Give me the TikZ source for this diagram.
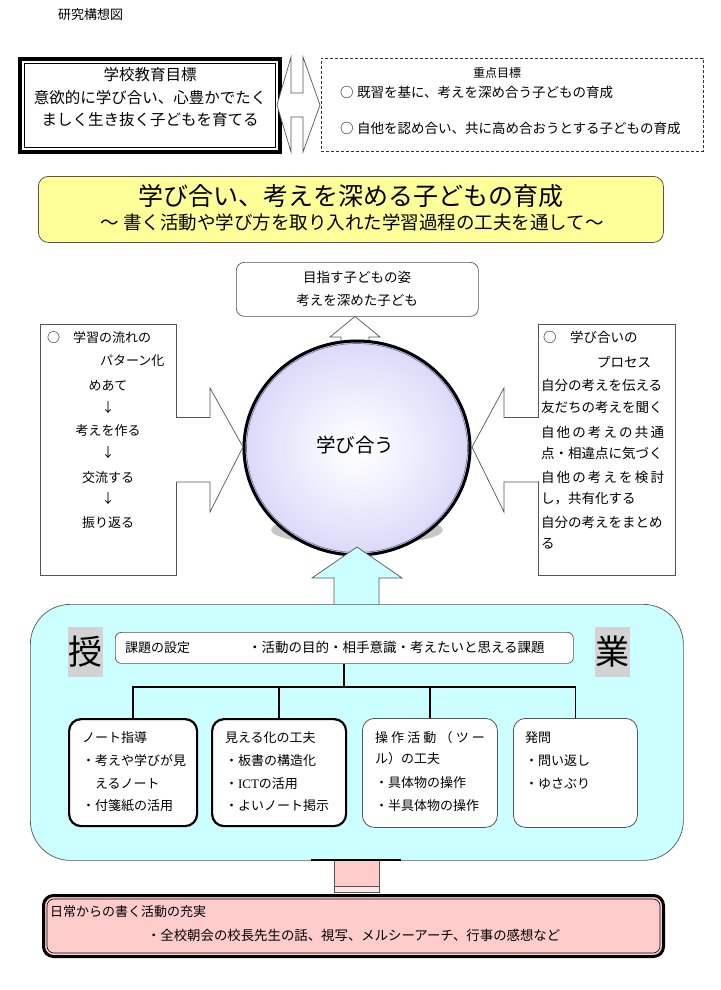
\documentclass[tikz,border=0pt]{standalone}
\usepackage{fontspec}
\setmainfont{Noto Sans CJK JP}
\newfontfamily\latinserif{Liberation Serif}
\usetikzlibrary{calc,shapes.geometric}
\definecolor{cyanbox}{HTML}{CCFFFF}
\definecolor{yelbox}{HTML}{FFFF99}
\definecolor{pinkbox}{HTML}{FFCCCC}
\definecolor{palepink}{HTML}{FFE6E6}
\definecolor{edgegray}{HTML}{555555}
\definecolor{labelgray}{HTML}{D3D3D3}
\definecolor{ringblue}{HTML}{7878A8}
\pgfdeclareradialshading{ballshade}{\pgfpoint{0bp}{0bp}}{rgb(0bp)=(1,1,1); rgb(6bp)=(0.97,0.97,1); rgb(30bp)=(0.82,0.82,0.97); rgb(50bp)=(0.73,0.73,0.95)}
\newcommand{\fs}[2]{\fontsize{#1}{#2}\selectfont}
\tikzset{
  txt/.style={inner sep=0pt, outer sep=0pt, anchor=base west},
  ctxt/.style={inner sep=0pt, outer sep=0pt, anchor=base},
  plainbox/.style={draw=edgegray, line width=0.7pt, inner sep=0pt, anchor=north west},
  fatbox/.style={draw=black, line width=2.2pt, fill=white, rounded corners=12pt, inner sep=0pt, anchor=north west, minimum height=107pt},
  slimbox/.style={draw=edgegray, line width=0.8pt, fill=white, rounded corners=12pt, inner sep=0pt, anchor=north west, minimum height=109pt},
  blockarrow/.style={draw=edgegray, line width=0.7pt, line join=miter},
  treeline/.style={draw=black, line width=1.8pt},
  t13/.style={txt, font=\fs{13}{15}},
  t135/.style={txt, font=\fs{13.5}{15}},
}
\begin{document}
\begin{tikzpicture}[x=1pt, y=-1pt]
\useasboundingbox (0,0) rectangle (720,990);
\fill[white] (0,0) rectangle (720,990);

% title
\node[t13] (title) at (58,20) {研究構想図};

% school goal
\node[draw=black, line width=4pt, minimum width=260pt, minimum height=93pt, inner sep=0pt] (goal) at (150,105.5) {};
\draw[line width=0.7pt] ($(goal.north west)+(6.5,6.5)$) rectangle ($(goal.south east)+(-6.5,-6.5)$);
\node[ctxt, font=\fs{15.5}{17}] (goal1) at (150,81) {学校教育目標};
\node[ctxt, font=\fs{15.5}{17}] (goal2) at (150,103) {意欲的に学び合い、心豊かでたく};
\node[ctxt, font=\fs{15.5}{17}] (goal3) at (150,125) {ましく生き抜く子どもを育てる};

% double arrow
\draw[blockarrow, fill=white] (291,57) -- (277,105) -- (291,152) -- (291,117) -- (303,117) -- (303,152) -- (320,105) -- (303,57) -- (303,93) -- (291,93) -- cycle;

% focus goals
\node[draw=black!80, dash pattern=on 3pt off 2pt, line width=0.7pt, minimum width=382pt, minimum height=93pt, inner sep=0pt, anchor=north west] (focus) at (320.5,58) {};
\node[ctxt, font=\fs{12}{14}] (focust) at (497,77.5) {重点目標};
\node[t135] (focus1) at (340,97) {○\hspace{3.5pt}既習を基に、考えを深め合う子どもの育成};
\node[t135] (focus2) at (340,133) {○\hspace{3.5pt}自他を認め合い、共に高め合おうとする子どもの育成};

% theme
\node[draw=edgegray, line width=0.8pt, fill=yelbox, rounded corners=10pt, minimum width=625pt, minimum height=66pt, inner sep=0pt, anchor=north west] (theme) at (38,176) {};
\node[ctxt, font=\fs{25}{27}] (theme1) at (351,205.5) {学び合い、考えを深める子どもの育成};
\node[ctxt, font=\fs{18.5}{20}] (theme2) at (352,229) {～ 書く活動や学び方を取り入れた学習過程の工夫を通して～};

% target
\node[plainbox, fill=white, rounded corners=8pt, minimum width=242pt, minimum height=54pt] (target) at (236,262) {};
\node[ctxt, font=\fs{13.5}{15}] (target1) at (357,282) {目指す子どもの姿};
\node[ctxt, font=\fs{13.5}{15}] (target2) at (357,305) {考えを深めた子ども};

% small up arrow
\draw[blockarrow, fill=white] (341,352) -- (341,337) -- (330,337) -- (355,316.5) -- (380,337) -- (369,337) -- (369,352);

% ball
\fill[black!22] (357,530) ellipse [x radius=86pt, y radius=15pt];
\node[ellipse, minimum width=229pt, minimum height=217pt, inner sep=0pt] (ball) at (357,448) {};
\shade[shading=ballshade] (ball.center) ellipse [x radius=114.5pt, y radius=108.5pt];
\draw[line width=3pt] (ball.center) ellipse [x radius=113pt, y radius=107pt];
\draw[ringblue, line width=0.7pt] (ball.center) ellipse [x radius=110.5pt, y radius=104.5pt];
\node[ctxt, font=\fs{19.5}{21}] (ballt) at (355,452.5) {学び合う};

% flow box
\node[plainbox, fill=white, minimum width=136pt, minimum height=251pt] (flow) at (40,324) {};
\fill[white] (175,417.8) rectangle (177.5,481.2);
\draw[blockarrow, fill=white] (176,417.5) -- (210,417.5) -- (210,388) -- (243,447) -- (210,512) -- (210,482) -- (176,482);
\node[t13] (fl1) at (47,342) {○　学習の流れの};
\node[t13] (fl2) at (100,365) {パターン化};
\node[ctxt, font=\fs{13}{15}] (fl3) at (108,390) {めあて};
\node[ctxt, font=\fs{13}{15}] (fl4) at (108,412) {↓};
\node[ctxt, font=\fs{13}{15}] (fl5) at (108,435) {考えを作る};
\node[ctxt, font=\fs{13}{15}] (fl6) at (108,457) {↓};
\node[ctxt, font=\fs{13}{15}] (fl7) at (108,482) {交流する};
\node[ctxt, font=\fs{13}{15}] (fl8) at (108,503) {↓};
\node[ctxt, font=\fs{13}{15}] (fl9) at (108,527) {振り返る};

% process box
\node[plainbox, fill=white, minimum width=137pt, minimum height=251pt] (proc) at (538,324) {};
\fill[white] (536.5,417.8) rectangle (539,481.2);
\draw[blockarrow, fill=white] (538,417.5) -- (504,417.5) -- (504,388) -- (472,447) -- (504,512) -- (504,482) -- (538,482);
\node[t135] (pr1) at (543,342) {○　学び合いの};
\node[t135] (pr2) at (597,367) {プロセス};
\node[t135] (pr3) at (541,390) {自分の考えを伝える};
\node[t135] (pr4) at (541,412) {友だちの考えを聞く};
\node[t135] (pr5) at (541,437) {\makebox[123pt][s]{自\hfill 他\hfill の\hfill 考\hfill え\hfill の\hfill 共\hfill 通}};
\node[t135] (pr6) at (541,458) {点・相違点に気づく};
\node[t135] (pr7) at (541,482) {\makebox[123pt][s]{自\hfill 他\hfill の\hfill 考\hfill え\hfill を\hfill 検\hfill 討}};
\node[t135] (pr8) at (541,503) {し，共有化する};
\node[t135] (pr9) at (541,527) {自分の考えをまとめ};
\node[t135] (pr10) at (541,548) {る};

% big up arrow
\draw[blockarrow, fill=cyanbox] (334,612) -- (334,578) -- (312,578) -- (357,547) -- (402,578) -- (379,578) -- (379,612);

% lesson box
\node[plainbox, fill=cyanbox, rounded corners=40pt, minimum width=653pt, minimum height=256pt] (lesson) at (30,604) {};
\node[fill=labelgray, minimum width=35pt, minimum height=50pt, inner sep=0pt, font=\fs{34}{36}] (ju) at (85.5,652) {授};
\node[fill=labelgray, minimum width=35pt, minimum height=50pt, inner sep=0pt, font=\fs{34}{36}] (gyo) at (612.5,652) {業};

\node[plainbox, fill=white, rounded corners=6pt, minimum width=458pt, minimum height=31pt] (task) at (115,632) {};
\node[t13] (task1) at (125,652.5) {課題の設定};
\node[t135] (task2) at (248,652.5) {・活動の目的・相手意識・考えたいと思える課題};

\node[fatbox, minimum width=128pt] (b1) at (68,718) {};
\node[fatbox, minimum width=134pt] (b2) at (211,718) {};
\node[slimbox, minimum width=135pt] (b3) at (362,718) {};
\node[slimbox, minimum width=124pt] (b4) at (513,718) {};

\coordinate (hub) at ($(task.south)+(0,23)$);
\draw[treeline] (task.south) -- (hub);
\draw[treeline] (b1.north) -- (b1.north |- hub) -- (b4.north |- hub) -- (b4.north);
\draw[treeline] (b2.north) -- (b2.north |- hub);
\draw[treeline] (b3.north) -- (b3.north |- hub);

\node[t13] (b1a) at (82,742) {ノート指導};
\node[t13] (b1b) at (82,765) {・考えや学びが見};
\node[t13] (b1c) at (95,788) {えるノート};
\node[t13] (b1d) at (82,810) {・付箋紙の活用};

\node[t13] (b2a) at (225,742) {見える化の工夫};
\node[t13] (b2b) at (225,765) {・板書の構造化};
\node[t13] (b2c) at (225,788) {・{\latinserif ICT}の活用};
\node[t13] (b2d) at (225,810) {・よいノート掲示};

\node[t13] (b3a) at (375,742) {\makebox[110pt][s]{操\hfill 作\hfill 活\hfill 動\hfill （\hfill ツ\hfill ー}};
\node[t13] (b3b) at (375,763) {ル）の工夫};
\node[t13] (b3c) at (375,787) {・具体物の操作};
\node[t13] (b3d) at (375,810) {・半具体物の操作};

\node[t13] (b4a) at (525,742) {発問};
\node[t13] (b4b) at (525,765) {・問い返し};
\node[t13] (b4c) at (525,788) {・ゆさぶり};

% link to daily box
\draw[draw=edgegray, line width=0.7pt, fill=pinkbox] (334,860) rectangle (379,886);
\draw[draw=edgegray, line width=0.7pt, fill=palepink] (334,886) rectangle (379,892);
\draw[black, line width=1.4pt] (311,860) -- (401,860);

% daily box
\node[draw=black, line width=3pt, fill=pinkbox, rounded corners=10pt, minimum width=620pt, minimum height=61pt, inner sep=0pt, anchor=north west] (daily) at (42,894) {};
\draw[line width=0.6pt, rounded corners=7pt] ($(daily.north west)+(5,5)$) rectangle ($(daily.south east)+(-5,-5)$);
\node[t13] (daily1) at (50,916) {日常からの書く活動の充実};
\node[txt, font=\fs{13.4}{15}] (daily2) at (147,940) {・全校朝会の校長先生の話、視写、メルシーアーチ、行事の感想など};
\end{tikzpicture}
\end{document}
